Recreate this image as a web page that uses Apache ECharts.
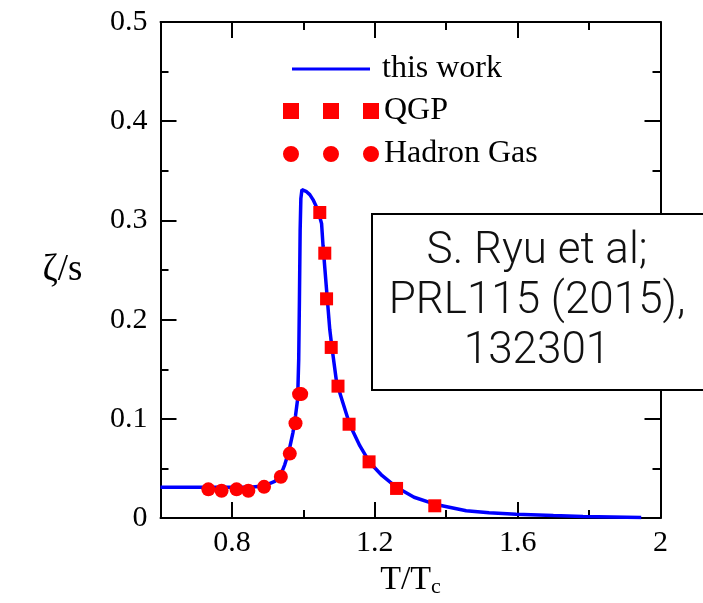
<!DOCTYPE html>
<html><head><meta charset="utf-8">
<script src="https://cdn.jsdelivr.net/npm/echarts@6/dist/echarts.min.js"></script>
<style>html,body{margin:0;padding:0;background:#fff}#c{width:703px;height:603px}</style>
</head><body><div id="c"></div>
<script>
// "this work" curve
var lineT = [0.6, 0.7, 0.8, 0.85, 0.88, 0.9, 0.92, 0.935, 0.948, 0.96, 0.971, 0.978, 0.984, 0.987, 0.989, 0.991, 0.993, 0.996, 1.0, 1.009, 1.018, 1.027, 1.04, 1.051, 1.055, 1.065, 1.074, 1.079, 1.093, 1.11, 1.13, 1.158, 1.186, 1.22, 1.261, 1.31, 1.368, 1.456, 1.52, 1.596, 1.7, 1.783, 1.946];
var lineZ = [0.031, 0.031, 0.031, 0.031, 0.032, 0.034, 0.037, 0.042, 0.054, 0.068, 0.0865, 0.103, 0.12, 0.16, 0.22, 0.29, 0.322, 0.331, 0.331, 0.329, 0.326, 0.321, 0.311, 0.297, 0.275, 0.23, 0.19, 0.175, 0.137, 0.117, 0.094, 0.073, 0.056, 0.043, 0.031, 0.021, 0.014, 0.0074, 0.0055, 0.004, 0.0025, 0.0017, 0.0007];
// QGP points
var qgpT = [1.046, 1.060, 1.065, 1.078, 1.097, 1.128, 1.184, 1.261, 1.368];
var qgpZ = [0.308, 0.267, 0.221, 0.172, 0.133, 0.0946, 0.0567, 0.0299, 0.0124];
// Hadron gas points
var hgT = [0.734, 0.771, 0.813, 0.846, 0.890, 0.937, 0.962, 0.978, 0.988, 0.994];
var hgZ = [0.029, 0.0275, 0.029, 0.0275, 0.0315, 0.0416, 0.065, 0.0956, 0.125, 0.125];
// ticks
var xMajor = [0.8, 1.2, 1.6, 2.0];
var xMinor = [1.0, 1.4, 1.8];
var xLabels = ['0.8', '1.2', '1.6', '2'];
var yLabels = ['0', '0.1', '0.2', '0.3', '0.4', '0.5'];

function zip(a, b) { return a.map(function (v, i) { return [v, b[i]]; }); }

var serif = 'Liberation Serif';
var black = '#000';
var chart = echarts.init(document.getElementById('c'));

function xAx(pos, ticks, len, showLine, labels) {
  return {
    type: 'value', min: 0.6, max: 2.0, position: pos,
    axisLine: { show: showLine, lineStyle: { color: black, width: 2 } },
    axisTick: { show: true, inside: true, length: len, customValues: ticks, lineStyle: { color: black, width: 2 } },
    axisLabel: labels ? {
      customValues: xMajor, color: black, fontFamily: serif, fontSize: 30, margin: 10,
      formatter: function (v) { var i = xMajor.findIndex(function (m) { return Math.abs(m - v) < 1e-6; }); return i >= 0 ? xLabels[i] : ''; }
    } : { show: false },
    splitLine: { show: false }
  };
}

var xAxes = [xAx('bottom', xMajor, 16, true, true), xAx('bottom', xMinor, 8, false, false), xAx('top', xMajor, 16, true, false), xAx('top', xMinor, 8, false, false)];
xAxes[0].name = '{t|T/T}{s|c}';
xAxes[0].nameLocation = 'middle';
xAxes[0].nameGap = 40;
xAxes[0].nameTextStyle = { rich: { t: { fontFamily: serif, fontSize: 34, color: black }, s: { fontFamily: serif, fontSize: 22, color: black, verticalAlign: 'bottom', padding: [14, 0, 0, 0] } } };

function yAx(pos, labels) {
  return {
    type: 'value', min: 0, max: 0.5, interval: 0.1, position: pos,
    axisLine: { show: true, lineStyle: { color: black, width: 2 } },
    axisTick: { show: true, inside: true, length: 16, lineStyle: { color: black, width: 2 } },
    minorTick: { show: true, splitNumber: 2, length: 8, lineStyle: { color: black, width: 2 } },
    axisLabel: labels ? { color: black, fontFamily: serif, fontSize: 30, margin: 13,
      formatter: function (v) { return yLabels[Math.round(v * 10)]; } } : { show: false },
    splitLine: { show: false }
  };
}
var yAxes = [yAx('left', true), yAx('right', false)];
yAxes[0].name = 'ζ/s';
yAxes[0].nameLocation = 'middle';
yAxes[0].nameRotate = 0;
yAxes[0].nameGap = 78;
yAxes[0].nameTextStyle = { fontFamily: serif, fontSize: 37, color: black };

var legendText = { fontFamily: serif, fontSize: 32, color: black };
var sqPath = 'path://M0,0h16v16h-16z M40,0h16v16h-16z M80,0h16v16h-16z';
var ciPath = 'path://M0,8a8,8 0 1,0 16,0a8,8 0 1,0 -16,0z M40,8a8,8 0 1,0 16,0a8,8 0 1,0 -16,0z M80,8a8,8 0 1,0 16,0a8,8 0 1,0 -16,0z';

chart.setOption({
  animation: false,
  backgroundColor: '#fff',
  grid: { left: 160.5, right: 42.5, top: 22, bottom: 84, show: false },
  xAxis: xAxes,
  yAxis: yAxes,
  legend: [
    { left: 287, top: 48, data: [{ name: 'this work', icon: 'rect' }], itemWidth: 78, itemHeight: 3, textStyle: Object.assign({ padding: [0, 0, 0, 7] }, legendText), selectedMode: false },
    { left: 278, top: 90, data: [{ name: 'QGP', icon: sqPath }], itemWidth: 96, itemHeight: 16, textStyle: Object.assign({ padding: [0, 0, 0, 0] }, legendText), selectedMode: false, itemGap: 0 },
    { left: 278, top: 133, data: [{ name: 'Hadron Gas', icon: ciPath }], itemWidth: 96, itemHeight: 16, textStyle: Object.assign({ padding: [0, 0, 0, 0] }, legendText), selectedMode: false }
  ],
  series: [
    { name: 'this work', type: 'line', data: zip(lineT, lineZ), showSymbol: false, symbol: 'none', color: '#0000ff', lineStyle: { color: '#0000ff', width: 3.5 }, itemStyle: { color: '#0000ff' }, z: 2 },
    { name: 'QGP', type: 'scatter', data: zip(qgpT, qgpZ), symbol: 'rect', symbolSize: 13, itemStyle: { color: '#ff0000', opacity: 1 }, z: 3 },
    { name: 'Hadron Gas', type: 'scatter', data: zip(hgT, hgZ), symbol: 'circle', symbolSize: 14, itemStyle: { color: '#ff0000', opacity: 1 }, z: 3 }
  ],
  graphic: [
    { type: 'rect', left: 371, top: 213, z: 100, shape: { width: 345, height: 176 }, style: { fill: '#fff', stroke: '#000', lineWidth: 2 } },
    { type: 'text', z: 101, x: 537, y: 302, style: { text: 'S. Ryu et al;\nPRL115 (2015),\n132301', fontFamily: 'Roboto', fontWeight: 300, fontSize: 44, lineHeight: 50, align: 'center', verticalAlign: 'middle', fill: '#111' } }
  ]
});
</script></body></html>
